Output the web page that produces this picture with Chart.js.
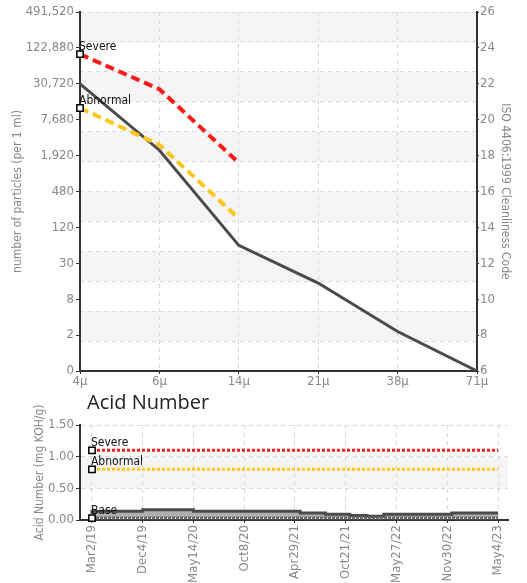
<!DOCTYPE html>
<html>
<head>
<meta charset="utf-8">
<script src="https://cdn.jsdelivr.net/npm/chart.js@4/dist/chart.umd.min.js"></script>
<style>
  body { margin: 0; background: #fff; }
  canvas { position: absolute; left: 0; }
  #particulas { top: 0; }
  #acido { top: 392px; }
  #tituloAcido { position: absolute; z-index: 1; left: 87px; top: 392px; font: 20px "Open Sans", sans-serif; line-height: 20px; color: #222; }
</style>
</head>
<body>
<canvas id="particulas" width="527" height="392"></canvas>
<canvas id="acido" width="527" height="191"></canvas>
<div id="tituloAcido">Acid Number</div>
<script>
// particle count chart (values are ISO 4406 codes)
const tamanos = ['4μ', '6μ', '14μ', '21μ', '38μ', '71μ'];
const muestra = [22.0, 18.3, 13.0, 10.9, 8.2, 6.0];
const severo = [23.65, 21.7, 17.6, null, null, null];
const anormal = [20.65, 18.6, 14.5, null, null, null];
const codigosIso = [6, 8, 10, 12, 14, 16, 18, 20, 22, 24, 26];
const conteos = ['0', '2', '8', '30', '120', '480', '1,920', '7,680', '30,720', '122,880', '491,520'];
const divisionesGrid = [0, 1, 2, 3, 4, 5, 6, 7, 8, 9, 10, 11, 12];

// acid number chart (x = position of sample date)
const fechas = ['Mar2/19', 'Dec4/19', 'May14/20', 'Oct8/20', 'Apr29/21', 'Oct21/21', 'May27/22', 'Nov30/22', 'May4/23'];
const anX = [0, 1.0, 2.0, 4.1, 4.6, 5.08, 5.42, 5.75, 7.09, 7.59, 8.0];
const anY = [0.10, 0.14, 0.16, 0.14, 0.11, 0.09, 0.07, 0.06, 0.09, 0.11, 0.11];
const limiteX = [0, 8];
const anSevero = [1.1, 1.1];
const anAnormal = [0.8, 0.8];
const anBase = [0.03, 0.03];

const fuente = '"DejaVu Sans Condensed", "Liberation Sans Narrow", "Roboto Condensed", "DejaVu Sans", sans-serif';
Chart.defaults.font.family = fuente;
Chart.defaults.font.size = 13;
Chart.defaults.color = '#888';

const franjas = {
    id: 'franjas',
    beforeDraw(chart, args, opts) {
        const s = chart.scales[opts.eje];
        const a = chart.chartArea;
        const ctx = chart.ctx;
        ctx.save();
        ctx.fillStyle = '#f5f5f5';
        for (let i = 0; i < s.ticks.length - 1; i++) {
            if (i % 2 === 1) {
                const y1 = s.getPixelForValue(s.ticks[i].value);
                const y2 = s.getPixelForValue(s.ticks[i + 1].value);
                ctx.fillRect(a.left, y2, a.right - a.left, y1 - y2);
            }
        }
        ctx.restore();
    }
};

const etiquetas = {
    id: 'etiquetas',
    afterDatasetsDraw(chart) {
        const ctx = chart.ctx;
        chart.data.datasets.forEach((ds, i) => {
            if (!ds.etiqueta) return;
            const p = chart.getDatasetMeta(i).data[0];
            ctx.save();
            ctx.font = '12px ' + fuente;
            ctx.fillStyle = '#111';
            ctx.textBaseline = 'alphabetic';
            ctx.fillText(ds.etiqueta, p.x - 1, p.y - 4);
            ctx.restore();
        });
    }
};

function marcador(extra) {
    return Object.assign({
        pointStyle: 'rect',
        pointRadius: c => c.dataIndex === 0 ? 4.5 : 0,
        pointBackgroundColor: '#fff',
        pointBorderColor: '#000',
        pointBorderWidth: 1.5,
        clip: false
    }, extra);
}

new Chart(document.getElementById('particulas'), {
    type: 'line',
    data: {
        labels: tamanos,
        datasets: [
            marcador({ label: 'Severe', etiqueta: 'Severe', data: severo, borderColor: '#ff1a1a', borderWidth: 4, borderDash: [9, 5], order: 0 }),
            marcador({ label: 'Abnormal', etiqueta: 'Abnormal', data: anormal, borderColor: '#ffc61a', borderWidth: 4, borderDash: [9, 5], order: 1 }),
            { label: 'Sample', data: muestra, borderColor: '#4a4a4a', borderWidth: 3, pointRadius: 0, order: 2 }
        ]
    },
    options: {
        responsive: false,
        animation: false,
        layout: { padding: { top: 12 } },
        plugins: { legend: { display: false }, tooltip: { enabled: false }, franjas: { eje: 'yg' } },
        scales: {
            x: {
                offset: false,
                grid: { color: '#d8d8d8', tickColor: '#333', tickLength: 3 },
                border: { color: '#333', width: 2, dash: [4, 4] },
                ticks: { padding: 0, maxRotation: 0 },
                afterFit: s => { s.height = 21; }
            },
            y: {
                position: 'left',
                min: 6, max: 26,
                ticks: { stepSize: 2, padding: 2, callback: v => conteos[codigosIso.indexOf(v)] },
                grid: { drawOnChartArea: false, tickColor: '#333', tickLength: 4 },
                border: { color: '#333', width: 2 },
                title: { display: true, text: 'number of particles (per 1 ml)', font: { size: 12 }, padding: { top: 11 } },
                afterFit: s => { s.width = 80; }
            },
            yg: {
                position: 'left',
                min: 0, max: 12,
                afterBuildTicks: s => { s.ticks = divisionesGrid.map(v => ({ value: v })); },
                ticks: { display: false },
                grid: { color: '#d8d8d8', drawTicks: false },
                border: { display: false, dash: [4, 4] },
                afterFit: s => { s.width = 0; }
            },
            y2: {
                position: 'right',
                min: 6, max: 26,
                ticks: { stepSize: 2, padding: 1 },
                grid: { drawOnChartArea: false, tickColor: '#333', tickLength: 2 },
                border: { color: '#333', width: 2 },
                title: { display: true, text: 'ISO 4406:1999 Cleanliness Code', font: { size: 12 }, padding: { top: 15 } },
                afterFit: s => { s.width = 50; }
            }
        }
    },
    plugins: [franjas, etiquetas]
});

const puntos = (xs, ys) => xs.map((x, i) => ({ x: x, y: ys[i] }));

new Chart(document.getElementById('acido'), {
    type: 'line',
    data: {
        datasets: [
            marcador({ label: 'Severe', etiqueta: 'Severe', data: puntos(limiteX, anSevero), borderColor: '#ff1a1a', borderWidth: 3, borderDash: [3, 2], order: 0 }),
            marcador({ label: 'Abnormal', etiqueta: 'Abnormal', data: puntos(limiteX, anAnormal), borderColor: '#ffc61a', borderWidth: 3, borderDash: [3, 2], order: 1 }),
            marcador({ label: 'Base', etiqueta: 'Base', data: puntos(limiteX, anBase), borderColor: '#6a6a6a', borderWidth: 3, borderDash: [3, 1], order: 2 }),
            { label: 'Acid Number', data: puntos(anX, anY), stepped: 'after', borderColor: '#4a4a4a', borderWidth: 3, pointRadius: 0, fill: 2, backgroundColor: '#b0b0b0', order: 3 }
        ]
    },
    options: {
        responsive: false,
        animation: false,
        layout: { padding: { top: 33, right: 19 } },
        plugins: { legend: { display: false }, tooltip: { enabled: false }, franjas: { eje: 'y' } },
        scales: {
            x: {
                type: 'linear',
                min: -0.236, max: 8.197,
                afterBuildTicks: s => { s.ticks = fechas.map((f, i) => ({ value: i })); },
                ticks: { padding: 2, minRotation: 90, maxRotation: 90, autoSkip: false, callback: v => fechas[v] },
                grid: { color: '#d8d8d8', tickColor: '#333', tickLength: 3 },
                border: { color: '#333', width: 2, dash: [4, 4] },
                afterFit: s => { s.height = 63; }
            },
            y: {
                min: 0, max: 1.5,
                ticks: { stepSize: 0.5, padding: 2, callback: v => v.toFixed(2) },
                grid: { color: '#d8d8d8', tickColor: '#333', tickLength: 4 },
                border: { color: '#333', width: 2, dash: [4, 4] },
                title: { display: true, text: 'Acid Number (mg KOH/g)', font: { size: 12 }, padding: { top: 33 } },
                afterFit: s => { s.width = 80; }
            }
        }
    },
    plugins: [franjas, etiquetas]
});
</script>
</body>
</html>
